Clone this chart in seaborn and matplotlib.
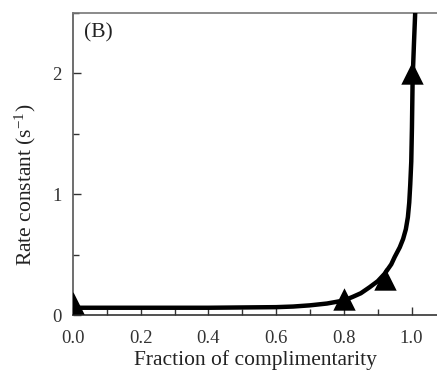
import matplotlib
matplotlib.use("Agg")
import matplotlib.pyplot as plt
from matplotlib.ticker import MultipleLocator
import seaborn as sns
import pandas as pd

# Measured data points (triangles)
frac_pts = [0.0, 0.8, 0.92, 1.0]
rate_pts = [0.10, 0.13, 0.30, 2.0]

# Fitted curve
curve_x = [0.0, 0.2, 0.4, 0.6, 0.65, 0.7, 0.75, 0.8, 0.826, 0.85, 0.876, 0.9,
           0.92, 0.94, 0.95, 0.965, 0.975, 0.983, 0.989, 0.993, 0.996, 0.999,
           1.001, 1.003, 1.007, 1.012]
curve_y = [0.06, 0.06, 0.06, 0.065, 0.07, 0.08, 0.095, 0.12, 0.15, 0.18, 0.23, 0.28,
           0.34, 0.42, 0.48, 0.56, 0.63, 0.71, 0.81, 0.93, 1.08, 1.27,
           1.55, 1.95, 2.25, 2.6]

x_ticks = [0.0, 0.2, 0.4, 0.6, 0.8, 1.0]
x_tick_labels = ["0.0", "0.2", "0.4", "0.6", "0.8", "1.0"]
y_ticks = [0, 1, 2]
y_tick_labels = ["0", "1", "2"]

sns.set_style("ticks")
plt.rcParams["font.family"] = ["Liberation Serif", "DejaVu Serif"]
plt.rcParams["mathtext.fontset"] = "custom"
plt.rcParams["mathtext.rm"] = "Liberation Serif"
plt.rcParams["mathtext.it"] = "Liberation Serif:italic"

fig = plt.figure(figsize=(4.37, 3.71), dpi=100)
ax = fig.add_axes([73/437, 1 - 315/371, 1 - 73/437, (315 - 13)/371])

curve_df = pd.DataFrame({"x": curve_x, "y": curve_y})
pts_df = pd.DataFrame({"x": frac_pts, "y": rate_pts})

sns.lineplot(data=curve_df, x="x", y="y", sort=False, ax=ax, color="black",
             linewidth=3.2, zorder=3)
sns.scatterplot(data=pts_df, x="x", y="y", ax=ax, marker="^", s=260,
                color="black", edgecolor="black", linewidth=0, zorder=4,
                clip_on=True)

ax.set_xlim(0, 1.075)
ax.set_ylim(0, 2.5)
ax.set_xticks(x_ticks)
ax.set_xticklabels(x_tick_labels)
ax.set_yticks(y_ticks)
ax.set_yticklabels(y_tick_labels)
ax.xaxis.set_minor_locator(MultipleLocator(0.1))
ax.yaxis.set_minor_locator(MultipleLocator(0.5))
ax.tick_params(axis="both", which="major", direction="in", length=6, width=1,
               labelsize=13.5, colors="#333333")
ax.tick_params(axis="both", which="minor", direction="in", length=4, width=1,
               colors="#333333")
ax.tick_params(axis="x", which="major", pad=11)
ax.tick_params(axis="y", which="major", pad=8)
ax.tick_params(axis="x", which="both", top=False)
ax.tick_params(axis="y", which="both", right=False)

ax.spines["right"].set_visible(False)
for s in ["left", "bottom", "top"]:
    ax.spines[s].set_linewidth(1.2)
ax.spines["left"].set_color("#555555")
ax.spines["top"].set_color("#777777")
ax.spines["bottom"].set_color("#333333")

ax.set_xlabel("Fraction of complimentarity", fontsize=15.5, color="#222222", labelpad=2)
ax.set_ylabel(r"Rate constant (s$^{\mathregular{-1}}$)", fontsize=15.5, color="#222222")
ax.yaxis.set_label_coords(-0.096, 0.43)
ax.text(0.03, 0.934, "(B)", transform=ax.transAxes, fontsize=15.5, color="#222222",
        va="center", ha="left")

fig.savefig("out.png", dpi=100)
